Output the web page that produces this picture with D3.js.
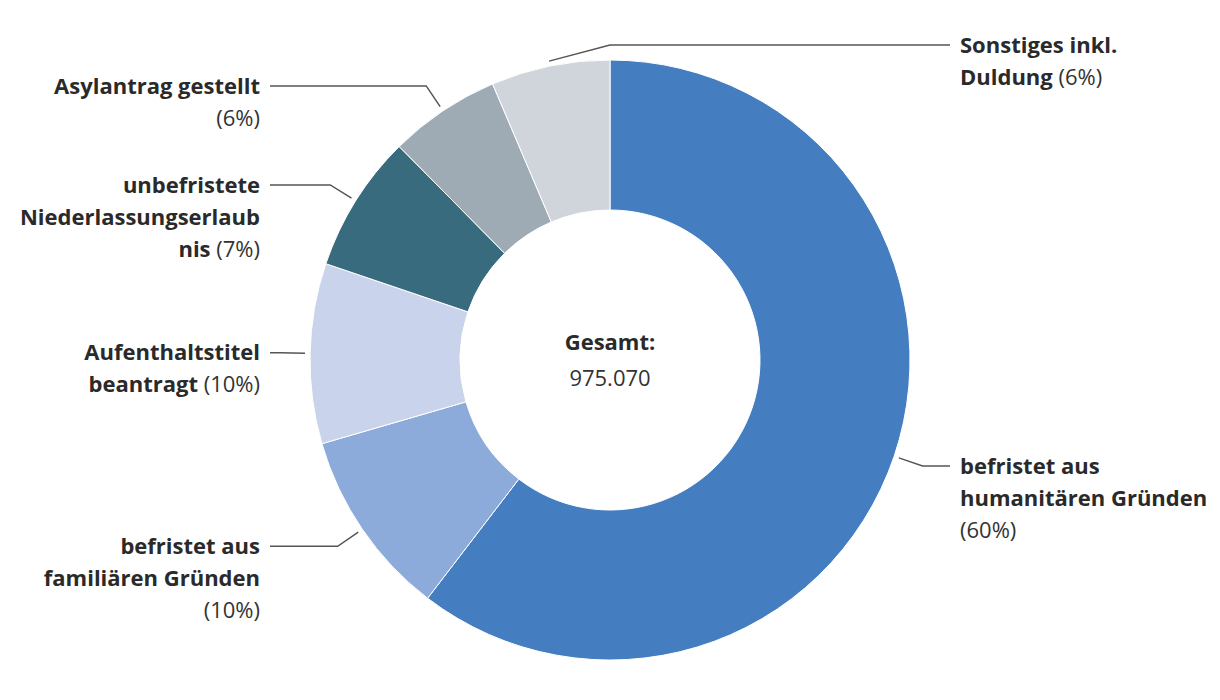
<!DOCTYPE html>
<html>
<head>
<meta charset="utf-8">
<script src="https://cdn.jsdelivr.net/npm/d3@7"></script>
<style>
  html, body { margin: 0; padding: 0; background: #fff; }
  svg { display: block; font-family: "Open Sans", Roboto, "Liberation Sans", sans-serif; }
</style>
</head>
<body>
<svg id="chart" width="1220" height="700"></svg>
<script>
// ---- data ----
const categories = [
  "befristet aus humanitären Gründen",
  "befristet aus familiären Gründen",
  "Aufenthaltstitel beantragt",
  "unbefristete Niederlassungserlaubnis",
  "Asylantrag gestellt",
  "Sonstiges inkl. Duldung"
];
const shares = [60.4, 10.1, 9.7, 7.4, 6.0, 6.4];
const labelLines = [
  ["befristet aus", "humanitären Gründen", ""],
  ["befristet aus", "familiären Gründen", ""],
  ["Aufenthaltstitel", "beantragt"],
  ["unbefristete", "Niederlassungserlaub", "nis"],
  ["Asylantrag gestellt", ""],
  ["Sonstiges inkl.", "Duldung"]
];
const colors = ["#447dc0", "#8cabda", "#c9d4ec", "#386b7e", "#9eabb5", "#d0d5dc"];
const totalLabel = "Gesamt:";
const totalValue = "975.070";

// ---- layout ----
const W = 1220, H = 700;
const cx = 610, cy = 360;
const outerR = 300, innerR = 150;
const fontSize = 22, lineH = 32;

const svg = d3.select("#chart");
const g = svg.append("g").attr("transform", `translate(${cx},${cy})`);

const pie = d3.pie().sort(null).value(d => d);
const arcs = pie(shares);
const arc = d3.arc().innerRadius(innerR).outerRadius(outerR);

g.selectAll("path.slice")
  .data(arcs)
  .join("path")
  .attr("class", "slice")
  .attr("d", arc)
  .attr("fill", (d, i) => colors[i])
  .attr("stroke", "#fff")
  .attr("stroke-width", 1);

// ---- labels with leader lines ----
const pt = (a, r) => [Math.sin(a) * r, -Math.cos(a) * r];
const fmt = v => Math.round(v) + "%";

arcs.forEach((d, i) => {
  const mid = (d.startAngle + d.endAngle) / 2;
  const start = pt(mid, outerR + 5);
  let knee = pt(mid, outerR + 30);
  let right = Math.sin(mid) >= 0;
  if (i === arcs.length - 1) {
    right = true;
    knee = pt(0, outerR + 15);
  }
  const endX = right ? 340 : -340;
  const textX = right ? 350 : -350;
  const y = knee[1];

  g.append("path")
    .attr("d", d3.line()([start, knee, [endX, y]]))
    .attr("fill", "none")
    .attr("stroke", "#555")
    .attr("stroke-width", 1.5);

  const lines = labelLines[i];
  const t = g.append("text")
    .attr("x", textX)
    .attr("y", y)
    .attr("text-anchor", right ? "start" : "end")
    .attr("font-size", fontSize)
    .attr("fill", "#2a2a2a");
  lines.forEach((ln, k) => {
    const ts = t.append("tspan")
      .attr("x", textX)
      .attr("y", y + k * lineH)
      .attr("dy", "0.35em");
    if (ln) ts.append("tspan").attr("font-weight", 700).text(ln);
    if (k === lines.length - 1) {
      ts.append("tspan").attr("font-weight", 400).attr("fill", "#333")
        .text((ln ? " " : "") + "(" + fmt(shares[i]) + ")");
    }
  });
});

// ---- center text ----
g.append("text")
  .attr("x", 0).attr("y", -18).attr("dy", "0.35em")
  .attr("text-anchor", "middle")
  .attr("font-size", fontSize).attr("font-weight", 700).attr("fill", "#2a2a2a")
  .text(totalLabel);
g.append("text")
  .attr("x", 0).attr("y", 18).attr("dy", "0.35em")
  .attr("text-anchor", "middle")
  .attr("font-size", fontSize).attr("font-weight", 400).attr("fill", "#333")
  .text(totalValue);
</script>
</body>
</html>
